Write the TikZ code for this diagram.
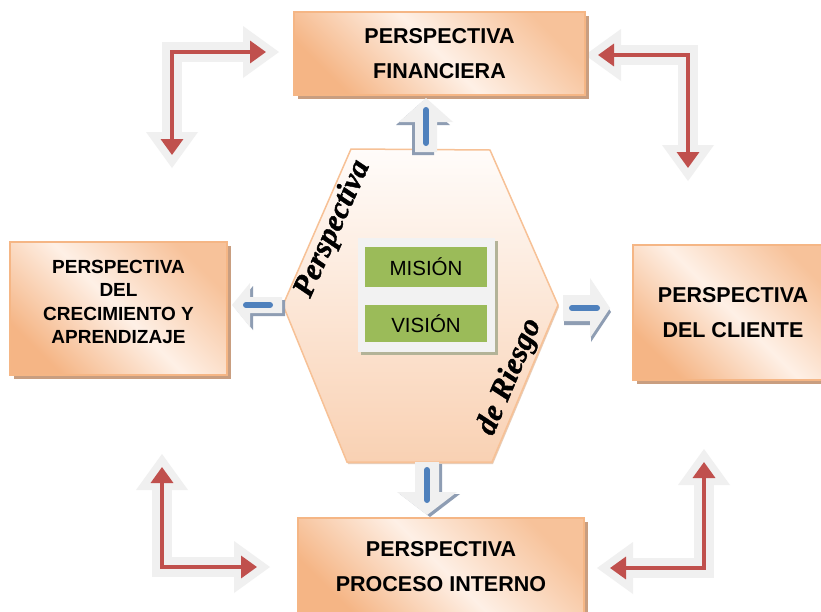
\documentclass[tikz,border=0pt]{standalone}
\usepackage{fontspec}
\setmainfont{Liberation Sans}
\newfontfamily\heavyserif[FakeBold=1.3]{Liberation Serif Bold Italic}
\usetikzlibrary{calc,arrows.meta}

\definecolor{boxborder}{HTML}{F5B685}
\definecolor{boxdark}{HTML}{F5B585}
\definecolor{boxlight}{HTML}{FEF0E6}
\definecolor{boxmid}{HTML}{F7C29A}
\definecolor{boxshadow}{HTML}{C99E80}
\definecolor{hexborder}{HTML}{F7C196}
\definecolor{hextop}{HTML}{FFFCFA}
\definecolor{hexbot}{HTML}{F9D1B3}
\definecolor{hexshadow}{HTML}{E8CDB8}
\definecolor{greenbox}{HTML}{9BBB59}
\definecolor{framefill}{HTML}{F2F2F2}
\definecolor{frameshadow}{HTML}{B3B398}
\definecolor{arrowgrey}{HTML}{F0F0F0}
\definecolor{arrowshadow}{HTML}{8E9DB3}
\definecolor{bluebarc}{HTML}{4F81BD}
\definecolor{redline}{HTML}{C0504D}

\newcommand\BArrow[8]{%
  \fill[arrowshadow, shift={#7}, shift={#1}, rotate=#2]
    (0,-#6) -- ({#3-#4},-#6) -- ({#3-#4},-#5) -- (#3,0) -- ({#3-#4},#5) -- ({#3-#4},#6) -- (0,#6) -- cycle;
  \fill[arrowgrey, shift={#1}, rotate=#2]
    (0,-#6) -- ({#3-#4},-#6) -- ({#3-#4},-#5) -- (#3,0) -- ({#3-#4},#5) -- ({#3-#4},#6) -- (0,#6) -- cycle;
  \draw[bluebar, shift={#1}, rotate=#2] #8;
}

\newcommand\LArrow[3]{%
  \foreach \t in {#2,#3} {
    \coordinate (gt) at ($(\t)!-13pt!(#1)$);
    \coordinate (gb) at ($(\t)!23pt!(#1)$);
    \fill[arrowgrey] ($(gb)!26pt!90:(gt)$) -- (gt) -- ($(gb)!26pt!-90:(gt)$) -- cycle;
  }
  \draw[line width=20pt, arrowgrey, line join=miter] ($(#2)!21pt!(#1)$) -- (#1) -- ($(#3)!21pt!(#1)$);
  \draw[redarr] (#2) -- (#1) -- (#3);
}

\begin{document}
\begin{tikzpicture}[x=1pt,y=1pt,
  pbox/.style={draw=boxborder, line width=1.5pt, left color=boxdark, right color=boxmid,
    middle color=boxlight, shading angle=135,
    preaction={fill=boxshadow, transform canvas={shift={(4pt,-4pt)}}}},
  bigtext/.style={font=\bfseries\fontsize{21.5}{35}\selectfont, align=center},
  smalltext/.style={font=\bfseries\fontsize{19}{23.3}\selectfont, align=center},
  hexstyle/.style={draw=hexborder, line width=1.5pt, top color=hextop, bottom color=hexbot},
  framebox/.style={fill=framefill, minimum width=137pt, inner sep=0pt,
    preaction={fill=frameshadow, transform canvas={shift={(2.5pt,-2.5pt)}}}},
  greenb/.style={fill=greenbox, minimum width=122pt, inner sep=0pt,
    font=\fontsize{20.5}{24}\selectfont},
  slanted/.style={font=\heavyserif\fontsize{31}{34}\selectfont},
  bluebar/.style={draw=bluebarc, line width=6pt, line cap=round},
  redarr/.style={draw=redline, line width=3.5pt, line join=miter,
    arrows={Triangle[length=16pt,width=22pt]-Triangle[length=16pt,width=22pt]}}
]
\clip (0,0) rectangle (821,-611);
\fill[white] (0,0) rectangle (821,-611);

% red L-shaped arrows
\coordinate (tlC) at (172,-52);  \coordinate (tlA) at (266,-52);  \coordinate (tlB) at (172,-155);
\coordinate (trC) at (688,-55);  \coordinate (trA) at (598,-55);  \coordinate (trB) at (688,-168);
\coordinate (blC) at (162,-567); \coordinate (blA) at (162,-467); \coordinate (blB) at (257,-567);
\coordinate (brC) at (704,-568); \coordinate (brA) at (704,-462); \coordinate (brB) at (610,-568);
\LArrow{tlC}{tlA}{tlB}
\LArrow{trC}{trA}{trB}
\LArrow{blC}{blA}{blB}
\LArrow{brC}{brA}{brB}

% boxes
\node[pbox, minimum width=291pt, minimum height=83pt, bigtext] (fin) at (439.5,-53.5)
  {PERSPECTIVA\\FINANCIERA};
\node[pbox, minimum width=200pt, minimum height=135pt, bigtext] (cli) at (733,-312.5)
  {PERSPECTIVA\\DEL CLIENTE};
\node[pbox, minimum width=286pt, minimum height=97pt, bigtext] (pro) at (441,-566.5)
  {PERSPECTIVA\\PROCESO INTERNO};
\node[pbox, minimum width=217pt, minimum height=133pt] (cre) at (118.5,-308.5) {};
\node[smalltext] (cret) at (118.5,-302)
  {PERSPECTIVA\\DEL\\CRECIMIENTO Y\\APRENDIZAJE};

% central hexagon
\fill[hexshadow] (352,-151) -- (491,-152) -- (559,-307) -- (493,-464) -- (348,-464) -- (284,-307) -- cycle;
\draw[hexstyle] (351,-149) -- (490,-150) -- (558,-305) -- (492,-462) -- (347,-462) -- (283,-305) -- cycle;

\node[slanted, rotate=66] (per) at (333,-229) {Perspectiva};
\node[slanted, rotate=67] (rie) at (510,-377) {de Riesgo};

\node[framebox, minimum height=58pt] (fm) at (426.5,-267) {};
\node[framebox, minimum height=56pt] (fv) at (426.5,-324) {};
\node[greenb, minimum height=40pt] (mis) at (426,-267) {MISIÓN};
\node[greenb, minimum height=37pt] (vis) at (426,-323.5) {VISIÓN};

% blue block arrows
\BArrow{(426,-152)}{90}{54}{24}{27}{11}{(-3,-3)}{(9,0) -- (42,0)}
\BArrow{(282,-305)}{180}{50}{18}{22}{8}{(3,-3)}{(12,0) -- (36,0)}
\BArrow{(563,-308)}{0}{47}{20}{30}{13}{(1,-4)}{(9,0) -- (34,0)}
\BArrow{(427,-462)}{-90}{53}{23}{30}{12}{(3,-2)}{(8,0) -- (38,0)}
\end{tikzpicture}
\end{document}
